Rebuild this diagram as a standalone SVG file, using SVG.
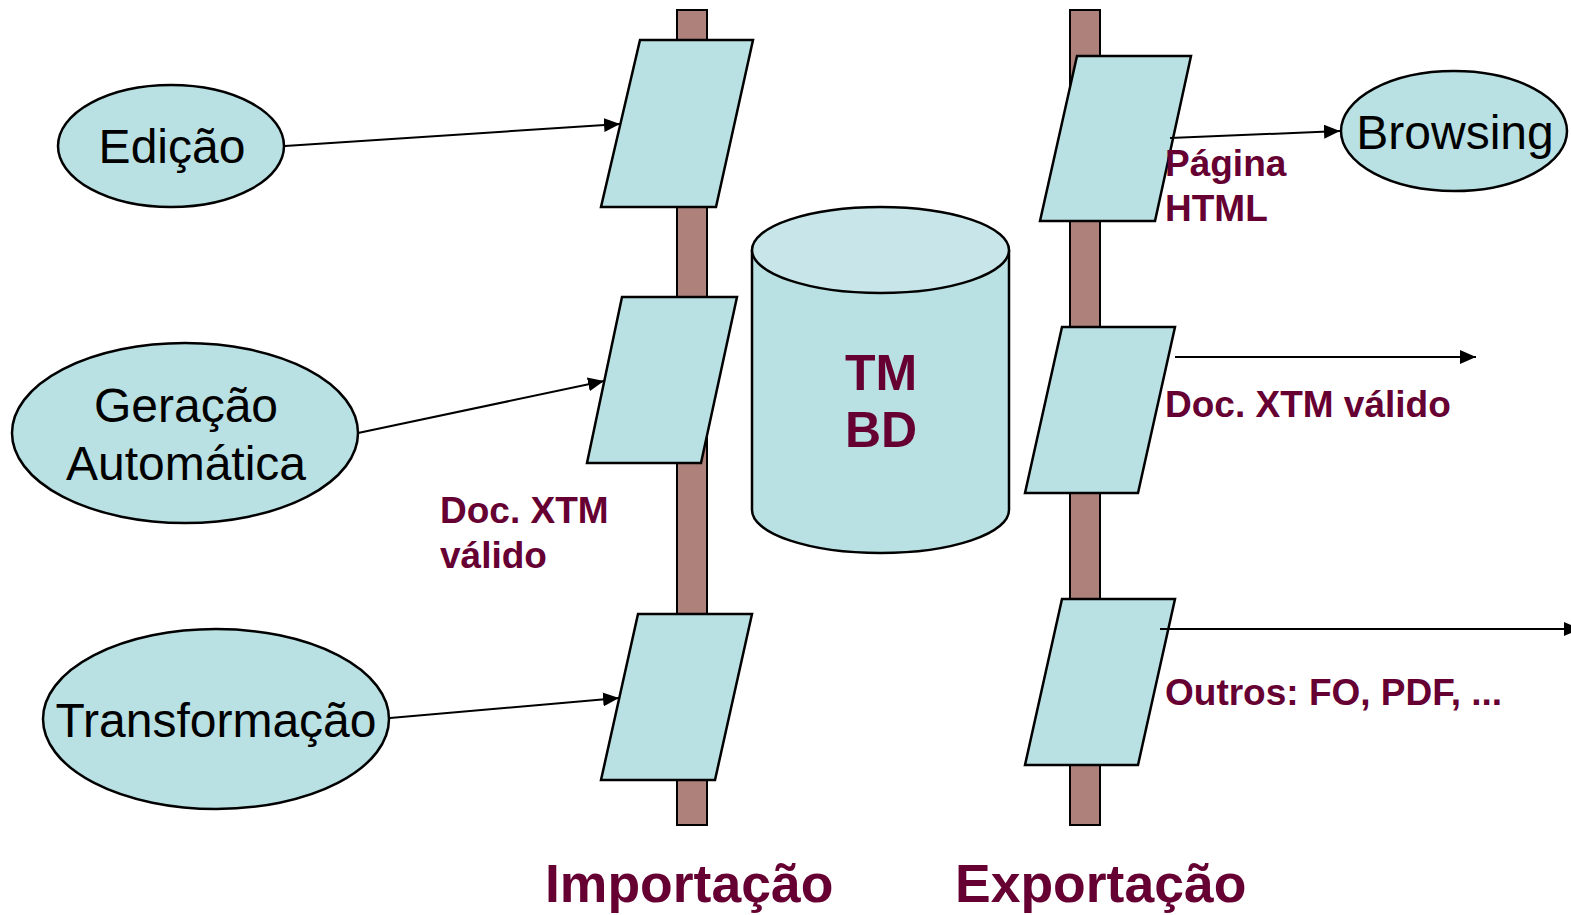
<svg xmlns="http://www.w3.org/2000/svg" width="1571" height="915" viewBox="0 0 1571 915">
  <style>
    .pole { fill: #AF817B; stroke: #000; stroke-width: 2; }
    .shape { fill: #B9E0E3; stroke: #000; stroke-width: 2.5; }
    .cyl-top { fill: #C8E6E9; stroke: #000; stroke-width: 2.5; }
    .node-label { font-family: "Liberation Sans", Arial, sans-serif; font-size: 48px; fill: #000; text-anchor: middle; }
    .tag { font-family: "Liberation Sans", Arial, sans-serif; font-weight: bold; font-size: 37px; fill: #660033; }
    .title { font-family: "Liberation Sans", Arial, sans-serif; font-weight: bold; font-size: 53.5px; fill: #660033; }
    .db { font-family: "Liberation Sans", Arial, sans-serif; font-weight: bold; font-size: 50px; fill: #660033; text-anchor: middle; }
    .edge { stroke: #000; stroke-width: 2; fill: none; marker-end: url(#arrow); }
  </style>
  <defs>
    <marker id="arrow" viewBox="0 0 16 14" refX="16" refY="7" markerWidth="16" markerHeight="14" markerUnits="userSpaceOnUse" orient="auto">
      <path d="M0,0 L16,7 L0,14 z" fill="#000"/>
    </marker>
  </defs>
  <rect width="1571" height="915" fill="#fff"/>

  <!-- vertical bars -->
  <g id="import-bar"><rect class="pole" x="677" y="10" width="30" height="815"/></g>
  <g id="export-bar"><rect class="pole" x="1070" y="10" width="30" height="815"/></g>

  <!-- import stages -->
  <g id="import-1"><polygon class="shape" points="640,40 753,40 716,207 601,207"/></g>
  <g id="import-2"><polygon class="shape" points="622,297 737,297 701,463 587,463"/></g>
  <g id="import-3"><polygon class="shape" points="638,614 752,614 715,780 601,780"/></g>

  <!-- export stages -->
  <g id="export-1"><polygon class="shape" points="1077,56 1191,56 1155,221 1040,221"/></g>
  <g id="export-2"><polygon class="shape" points="1062,327 1175,327 1138,493 1025,493"/></g>
  <g id="export-3"><polygon class="shape" points="1062,599 1175,599 1138,765 1025,765"/></g>

  <!-- topic map database -->
  <g id="tm-db">
    <path class="shape" d="M752,250 L752,510 A128.5,43 0 0 0 1009,510 L1009,250"/>
    <ellipse class="cyl-top" cx="880.5" cy="250" rx="128.5" ry="43"/>
    <text class="db" x="881" y="390">TM</text>
    <text class="db" x="881" y="447">BD</text>
  </g>

  <!-- sources -->
  <g id="edicao">
    <ellipse class="shape" cx="171" cy="146" rx="113" ry="61"/>
    <text class="node-label" x="172" y="163">Edição</text>
  </g>
  <g id="geracao">
    <ellipse class="shape" cx="185" cy="433" rx="173" ry="90"/>
    <text class="node-label" x="186" y="422">Geração</text>
    <text class="node-label" x="186" y="480">Automática</text>
  </g>
  <g id="transformacao">
    <ellipse class="shape" cx="216" cy="719" rx="173" ry="90"/>
    <text class="node-label" x="216" y="737">Transformação</text>
  </g>

  <!-- target -->
  <g id="browsing">
    <ellipse class="shape" cx="1454" cy="131" rx="113" ry="60"/>
    <text class="node-label" x="1455" y="149">Browsing</text>
  </g>

  <!-- connectors -->
  <g id="connectors">
    <line class="edge" x1="285" y1="146" x2="620" y2="124"/>
    <line class="edge" x1="358" y1="433" x2="604" y2="381"/>
    <line class="edge" x1="390" y1="718" x2="619" y2="698"/>
    <line class="edge" x1="1170" y1="138" x2="1340" y2="131"/>
    <line class="edge" x1="1175" y1="357" x2="1476" y2="357"/>
    <line class="edge" x1="1160" y1="629" x2="1580" y2="629"/>
  </g>

  <!-- labels -->
  <g id="labels">
    <text class="tag" x="1165" y="176">Página</text>
    <text class="tag" x="1165" y="221">HTML</text>
    <text class="tag" x="440" y="523">Doc. XTM</text>
    <text class="tag" x="440" y="568">válido</text>
    <text class="tag" x="1165" y="417">Doc. XTM válido</text>
    <text class="tag" x="1165" y="705">Outros: FO, PDF, ...</text>
    <text class="title" x="545" y="902">Importação</text>
    <text class="title" x="955" y="902">Exportação</text>
  </g>
</svg>
